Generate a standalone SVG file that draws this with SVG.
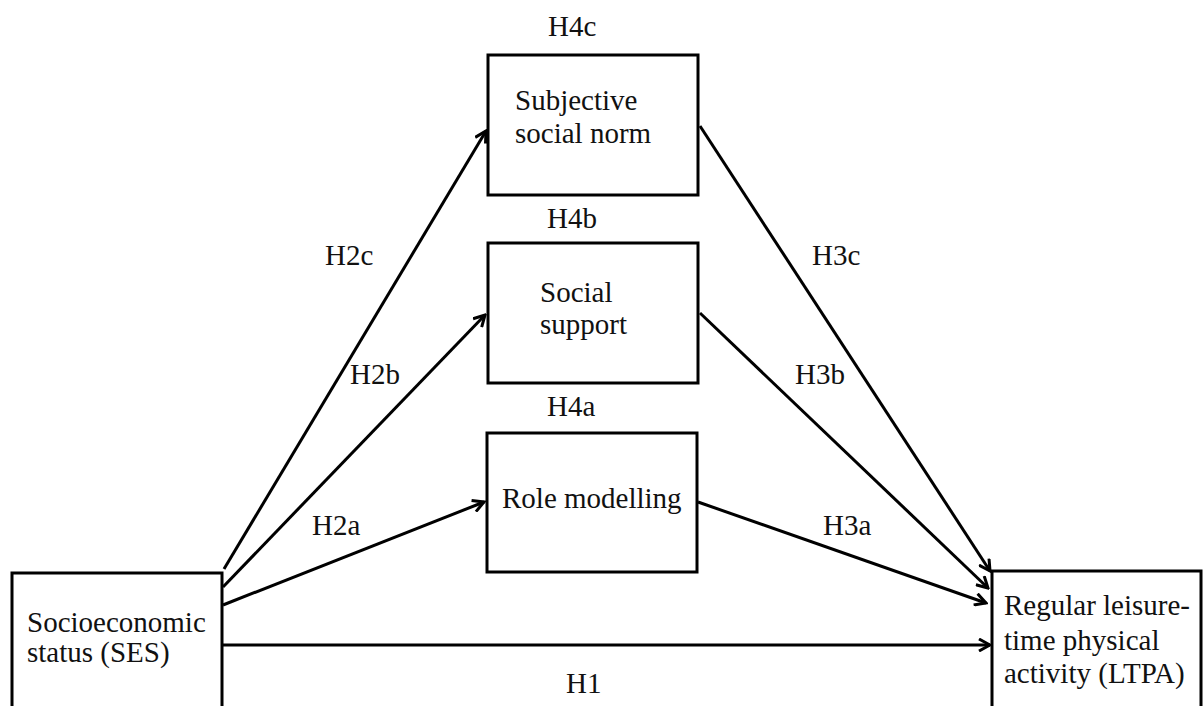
<svg xmlns="http://www.w3.org/2000/svg" width="1203" height="706" viewBox="0 0 1203 706">
<style>
  .box { fill: #fff; stroke: #000; stroke-width: 3; }
  .t { font-family: "Liberation Serif", "Times New Roman", serif; font-size: 29px; fill: #111; }
  .c { fill: none; stroke: #000; stroke-width: 3; marker-end: url(#arr); }
</style>
<defs>
  <marker id="arr" viewBox="0 0 14 14" refX="12" refY="7" markerWidth="14" markerHeight="14" markerUnits="userSpaceOnUse" orient="auto">
    <path d="M1,1 L12,7 L1,13" fill="none" stroke="#000" stroke-width="3"/>
  </marker>
</defs>
<rect width="1203" height="706" fill="#fff"/>
<g id="connectors">
  <line class="c" x1="224" y1="569" x2="486" y2="131"/>
  <line class="c" x1="223" y1="587" x2="485" y2="315"/>
  <line class="c" x1="223" y1="605" x2="484" y2="502"/>
  <line class="c" x1="222" y1="645" x2="990" y2="645"/>
  <line class="c" x1="700" y1="126" x2="990" y2="571"/>
  <line class="c" x1="700" y1="313" x2="988" y2="588"/>
  <line class="c" x1="698" y1="502" x2="986" y2="603"/>
</g>
<g id="ses">
  <rect class="box" x="12" y="573" width="210" height="150"/>
  <text class="t" x="27" y="632">Socioeconomic</text>
  <text class="t" x="27" y="662">status (SES)</text>
</g>
<g id="ltpa">
  <rect class="box" x="992" y="571" width="209" height="150"/>
  <text class="t" x="1004" y="615">Regular leisure-</text>
  <text class="t" x="1004" y="650">time physical</text>
  <text class="t" x="1004" y="683">activity (LTPA)</text>
</g>
<g id="subjective">
  <rect class="box" x="488" y="55" width="210" height="140"/>
  <text class="t" x="515" y="110">Subjective</text>
  <text class="t" x="515" y="143">social norm</text>
</g>
<g id="support">
  <rect class="box" x="488" y="243" width="210" height="140"/>
  <text class="t" x="540" y="302">Social</text>
  <text class="t" x="540" y="334">support</text>
</g>
<g id="role">
  <rect class="box" x="487" y="433" width="210" height="139"/>
  <text class="t" x="502" y="508">Role modelling</text>
</g>
<g id="labels">
  <text class="t" x="548" y="36">H4c</text>
  <text class="t" x="547" y="228">H4b</text>
  <text class="t" x="547" y="416">H4a</text>
  <text class="t" x="325" y="265">H2c</text>
  <text class="t" x="350" y="384">H2b</text>
  <text class="t" x="312" y="535">H2a</text>
  <text class="t" x="812" y="265">H3c</text>
  <text class="t" x="795" y="384">H3b</text>
  <text class="t" x="823" y="535">H3a</text>
  <text class="t" x="566" y="693">H1</text>
</g>
</svg>
